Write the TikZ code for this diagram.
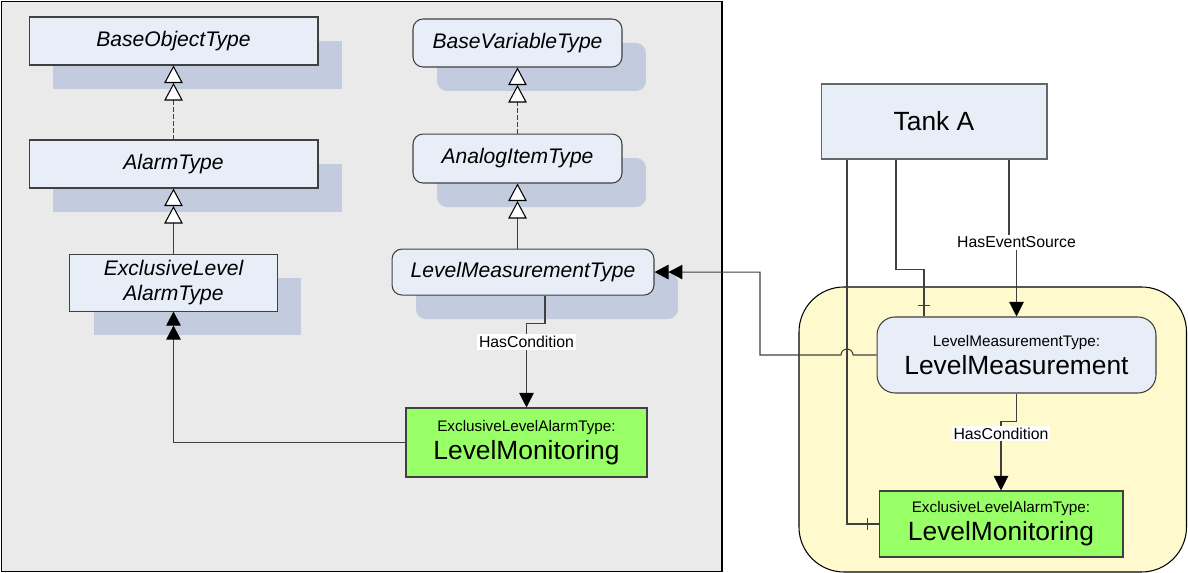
\documentclass[tikz,border=0pt]{standalone}
\usepackage{fontspec}
\setmainfont{Liberation Sans}
\usetikzlibrary{arrows.meta,positioning,shadows,decorations.markings,calc}
\definecolor{typefill}{RGB}{232,238,248}
\definecolor{shadowblue}{RGB}{194,204,222}
\definecolor{panelgray}{RGB}{234,234,234}
\definecolor{alarmgreen}{RGB}{153,255,102}
\definecolor{areayellow}{RGB}{255,250,205}
\definecolor{edgegray}{RGB}{64,64,64}
\def \gapY {1.3cm}
\def \shadowoff {0.48cm}
\newcommand{\typefont}{\fontsize{12}{14.2}\selectfont\itshape}
\newcommand{\smallfont}{\fontsize{8.7}{10}\selectfont}
\newcommand{\bigfont}{\fontsize{15}{16}\selectfont}
\newcommand{\reffont}{\fontsize{9}{10}\selectfont}
\tikzset{
	typeblock/.style= {draw=edgegray, rectangle, align=center, fill=typefill, font=\typefont, inner sep=0pt, line width=0.6pt, drop shadow={shadow xshift=\shadowoff, shadow yshift=-\shadowoff, fill=shadowblue, opacity=1}},
	roundedtypeblock/.style= {typeblock, rounded corners=0.2cm},
	instanceblock/.style= {draw=edgegray, rectangle, rounded corners=0.36cm, align=center, fill=typefill, font=\bigfont, inner sep=0pt, line width=0.6pt, minimum width=5.58cm, minimum height=1.52cm},
	tankblock/.style= {draw=black!60, rectangle, align=center, fill=typefill, font=\bigfont, inner sep=0pt, line width=0.6pt, minimum width=4.52cm, minimum height=1.5cm},
	alarmblock/.style= {draw=edgegray, rectangle, align=center, fill=alarmgreen, font=\bigfont, inner sep=0pt, line width=0.6pt},
	reflabel/.style= {fill=white, inner sep=1pt, font=\reffont},
	grayarea/.style= {draw=black, line width=0.9pt, fill=panelgray},
	yellowarea/.style= {draw=black, line width=0.6pt, fill=areayellow, rounded corners=0.9cm},
	refline/.style= {draw=black!75, line width=0.6pt},
	dashedrefline/.style= {refline, dash pattern=on 0.09cm off 0.05cm},
	hollowtwotip/.style= {-{Triangle[open, black, fill=white, length=0.35cm, width=0.37cm] Triangle[open, black, fill=white, length=0.35cm, width=0.37cm]}},
	filledtip/.style= {-{Triangle[black, length=0.29cm, width=0.29cm]}},
	filledtwotip/.style= {-{Triangle[black, length=0.28cm, width=0.29cm] Triangle[black, length=0.28cm, width=0.29cm]}},
	tickend/.style= {postaction={decorate, decoration={markings, mark=at position -0.22cm with {\draw [line width=0.6pt] (0,-0.12cm) -- (0,0.12cm);}}}}
}

\begin{document}
\begin{tikzpicture}[x=0.02cm, y=-0.02cm]
\useasboundingbox (0,0) rectangle (1188,573);

%%%%%%%%%%%%%%%%%%%%% Areas %%%%%%%%%%%%%%%%%%%%%
	\draw [grayarea] (1.5,1.5) rectangle (722,571.5);
	\draw [yellowarea] (799,287) rectangle (1186.5,572);

%%%%%%%%%%%%%%%%%%%%% Nodes %%%%%%%%%%%%%%%%%%%%%
	\node [typeblock, minimum width=5.78cm, minimum height=0.96cm] (baseobj) at (173.5,41) {BaseObjectType};
	\node [typeblock, minimum width=5.78cm, minimum height=0.96cm, below = 1.48cm of baseobj] (alarm) {AlarmType};
	\node [typeblock, minimum width=4.16cm, minimum height=1.14cm, below = \gapY of alarm] (exalarm) {ExclusiveLevel\\AlarmType};

	\node [roundedtypeblock, minimum width=4.18cm, minimum height=0.96cm] (basevar) at (517.5,43) {BaseVariableType};
	\node [roundedtypeblock, minimum width=4.18cm, minimum height=0.98cm, below = 1.32cm of basevar] (analog) {AnalogItemType};
	\node [roundedtypeblock, minimum width=5.24cm, minimum height=0.92cm, below = \gapY of analog, xshift=0.11cm] (lmtype) {LevelMeasurementType};

	\node [alarmblock, minimum width=4.82cm, minimum height=1.38cm] (monitor) at (526.5,442.5) {{\smallfont ExclusiveLevelAlarmType:}\\LevelMonitoring};

	\node [tankblock] (tank) at (934,121.5) {Tank A};
	\node [instanceblock] (measure) at (1016.5,355) {{\smallfont LevelMeasurementType:}\\LevelMeasurement};
	\node [alarmblock, minimum width=4.88cm, minimum height=1.32cm] (tankmonitor) at (1001,524) {{\smallfont ExclusiveLevelAlarmType:}\\LevelMonitoring};

	\coordinate (drop) at ([xshift=-1.74cm]tank.south);
	\coordinate (hop) at (measure.west -| drop);

%%%%%%%%%%%%%%%%%%%%% Connectors %%%%%%%%%%%%%%%%%%%%%
	\draw [dashedrefline, hollowtwotip] (alarm.north) -- (alarm.north |- baseobj.south);
	\draw [refline, hollowtwotip] (exalarm.north) -- (exalarm.north |- alarm.south);
	\draw [dashedrefline, hollowtwotip] (analog.north) -- (analog.north |- basevar.south);
	\draw [refline, hollowtwotip] (analog.south |- lmtype.north) -- (analog.south);

	\draw [refline, filledtip] ([xshift=0.44cm]lmtype.south) -- ++(0,28) -| node [reflabel, pos=0.61] {HasCondition} (monitor.north);
	\draw [refline, filledtwotip] (monitor.west) -| (exalarm.south);

	\draw [refline, filledtip] ([xshift=1.5cm]tank.south) -- ++(0,83) -| node [reflabel, pos=0.5] {HasEventSource} (measure.north);
	\draw [refline, tickend] ([xshift=-0.76cm]tank.south) -- ++(0,110) -| ([xshift=-1.85cm]measure.north);
	\draw [refline, tickend] (drop) |- (tankmonitor.west);
	\draw [refline, filledtwotip] (measure.west) -- ([xshift=0.12cm]hop) arc [start angle=0, end angle=-180, radius=6] -- ++(-81,0) |- (lmtype.east);
	\draw [refline, filledtip] (measure.south) -- ++(0,28) -| node [reflabel, pos=0.59] {HasCondition} (tankmonitor.north);

\end{tikzpicture}
\end{document}
